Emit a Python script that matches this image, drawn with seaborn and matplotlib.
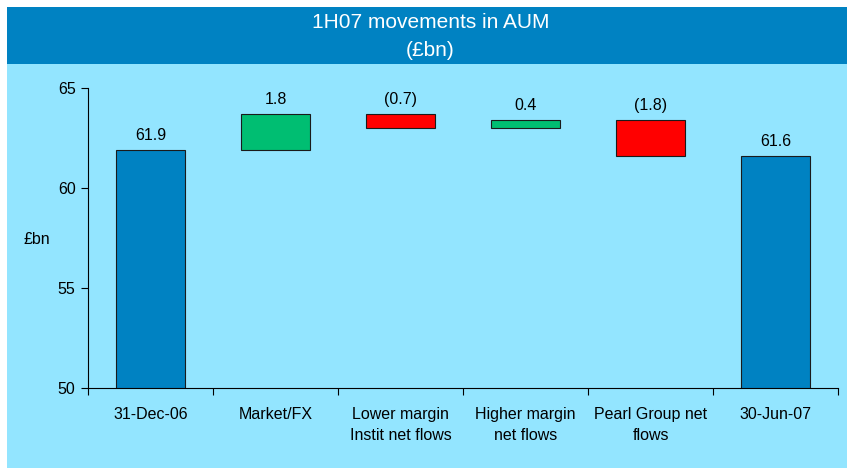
import matplotlib
matplotlib.use("Agg")
import matplotlib.pyplot as plt
from matplotlib.patches import Rectangle
import numpy as np
import seaborn as sns

# data
categories = ["31-Dec-06", "Market/FX", "Lower margin\nInstit net flows",
              "Higher margin\nnet flows", "Pearl Group net\nflows", "30-Jun-07"]
changes = [61.9, 1.8, -0.7, 0.4, -1.8, 61.6]
kinds = ["total", "up", "down", "up", "down", "total"]
value_labels = ["61.9", "1.8", "(0.7)", "0.4", "(1.8)", "61.6"]
yticks = [50, 55, 60, 65]

KIND_COLOR = {"total": "#0082C2", "up": "#00BE72", "down": "#FF0000"}
PANEL_BG = "#93E5FF"
TITLE_BG = "#0082C2"

# waterfall bottoms / heights
bottoms, heights = [], []
running = 0.0
for c, k in zip(changes, kinds):
    if k == "total":
        bottoms.append(0.0)
        heights.append(c)
        running = c
    else:
        lo = min(running, running + c)
        bottoms.append(lo)
        heights.append(abs(c))
        running += c
tops = [b + h for b, h in zip(bottoms, heights)]

sns.set_theme(style="white")
plt.rcParams["font.family"] = ["Liberation Sans", "DejaVu Sans"]
plt.rcParams.update({"text.color": "black", "xtick.labelcolor": "black",
                     "ytick.labelcolor": "black"})

fig = plt.figure(figsize=(8.47, 4.68), dpi=100)
fig.patch.set_facecolor("white")

# panel backgrounds
fig.patches.append(Rectangle((7 / 847, 0), 1, 1 - 64 / 468, transform=fig.transFigure,
                             facecolor=PANEL_BG, edgecolor="none", zorder=-2))
fig.patches.append(Rectangle((7 / 847, 1 - 64 / 468), 1, 57 / 468, transform=fig.transFigure,
                             facecolor=TITLE_BG, edgecolor="none", zorder=-1))
fig.text(0.508, 1 - 22 / 468, "1H07 movements in AUM", ha="center", va="center",
         color="white", fontsize=15)
fig.text(0.508, 1 - 50 / 468, "(£bn)", ha="center", va="center",
         color="white", fontsize=15)

ax = fig.add_axes([88 / 847, 1 - 388 / 468, 750 / 847, 300 / 468])
ax.set_facecolor("none")

sns.barplot(x=categories, y=tops, hue=categories,
            palette=[KIND_COLOR[k] for k in kinds], legend=False,
            width=0.55, edgecolor="#1a1a1a", linewidth=0.8, errorbar=None,
            saturation=1, ax=ax)
# float the movement bars on their running base
for patch, b, h in zip(ax.patches, bottoms, heights):
    patch.set_y(b)
    patch.set_height(h)

for i, (t, lab) in enumerate(zip(tops, value_labels)):
    ax.annotate(lab, xy=(i, t), xytext=(0, 5), textcoords="offset points",
                ha="center", va="bottom", fontsize=11.5, color="black")

ax.set_ylim(50, 65)
ax.set_xlim(-0.5, len(categories) - 0.5)
ax.set_yticks(yticks)
ax.set_yticklabels([str(v) for v in yticks], fontsize=11.5)
ax.set_xticks(range(len(categories)))
ax.set_xticklabels(categories, fontsize=11.5, linespacing=1.45)
ax.set_xticks(np.arange(len(categories) + 1) - 0.5, minor=True)
ax.tick_params(axis="x", which="major", length=0, pad=14)
ax.tick_params(axis="x", which="minor", length=5, width=0.8, color="black",
               direction="out", bottom=True)
ax.tick_params(axis="y", length=5, width=0.8, color="black", direction="out",
               pad=4, left=True)

for s in ["top", "right"]:
    ax.spines[s].set_visible(False)
for s in ["left", "bottom"]:
    ax.spines[s].set_color("black")
    ax.spines[s].set_linewidth(0.8)

ax.set_xlabel("")
ax.set_ylabel("")
fig.text(37 / 847, 1 - 240 / 468, "£bn", ha="center", va="center", fontsize=11.5)

fig.savefig("out.png", dpi=100)
